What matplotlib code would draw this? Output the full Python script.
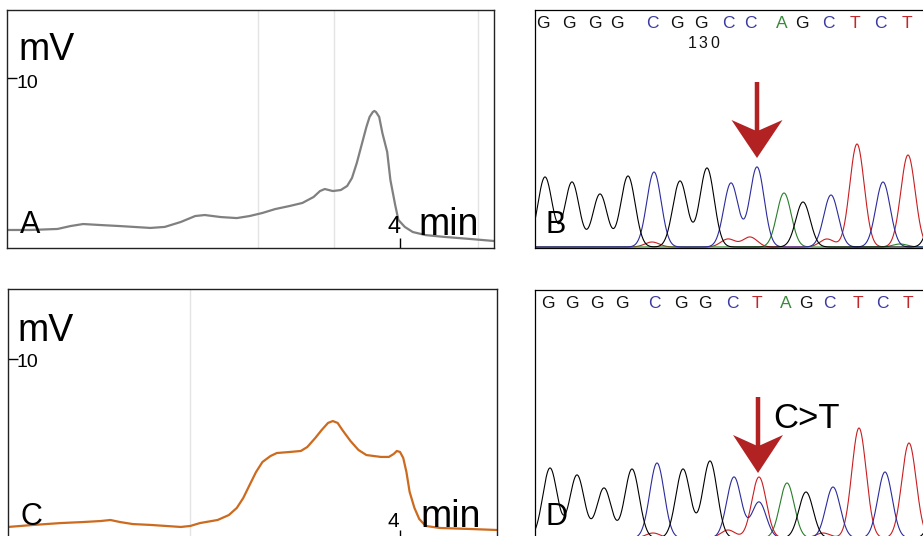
import numpy as np
import matplotlib.pyplot as plt
from matplotlib.patches import FancyArrow

plt.rcParams['font.family'] = ['Liberation Sans', 'DejaVu Sans']

# HPLC trace A (retention time in min, signal in mV)
a_time = [1.54, 1.69, 1.86, 1.94, 2.02, 2.13, 2.25, 2.44, 2.53, 2.63, 2.72, 2.78,
          2.88, 2.98, 3.06, 3.14, 3.22, 3.31, 3.39, 3.46, 3.50, 3.53, 3.58, 3.63,
          3.67, 3.70, 3.73, 3.76, 3.79, 3.81, 3.83, 3.84, 3.85, 3.87, 3.89, 3.92,
          3.94, 3.97, 3.99, 4.03, 4.08, 4.16, 4.28, 4.44, 4.59]
a_mv = [1.06, 1.06, 1.12, 1.29, 1.41, 1.35, 1.29, 1.18, 1.24, 1.53, 1.88, 1.94,
        1.82, 1.76, 1.88, 2.06, 2.29, 2.47, 2.65, 3.00, 3.35, 3.47, 3.35, 3.41,
        3.65, 4.12, 5.00, 6.06, 7.12, 7.71, 8.00, 8.06, 8.00, 7.71, 6.76, 5.65,
        4.00, 2.53, 1.65, 1.24, 0.94, 0.76, 0.65, 0.53, 0.41]
a_grid = [3.11, 3.59, 4.49]

# HPLC trace C
c_time = [1.55, 1.71, 1.88, 2.02, 2.13, 2.19, 2.25, 2.33, 2.44, 2.63, 2.69, 2.75,
          2.86, 2.93, 2.98, 3.02, 3.06, 3.10, 3.14, 3.19, 3.23, 3.31, 3.38, 3.42,
          3.47, 3.51, 3.55, 3.58, 3.61, 3.64, 3.69, 3.74, 3.79, 3.88, 3.93, 3.96,
          3.98, 4.00, 4.02, 4.04, 4.06, 4.09, 4.12, 4.16, 4.25, 4.44, 4.61]
c_mv = [0.12, 0.24, 0.35, 0.41, 0.47, 0.53, 0.41, 0.29, 0.24, 0.12, 0.18, 0.35,
        0.53, 0.82, 1.24, 1.82, 2.59, 3.35, 3.94, 4.29, 4.47, 4.53, 4.59, 4.82,
        5.35, 5.82, 6.24, 6.35, 6.24, 5.82, 5.18, 4.65, 4.35, 4.24, 4.24, 4.41,
        4.59, 4.53, 4.18, 3.35, 2.18, 1.24, 0.59, 0.18, 0.06, 0.00, -0.06]
c_grid = [2.69]

# Sanger trace B: peak (scan position, height) per dye
b_peaks = {
    'G': [(10, 70), (37, 65), (65, 53), (93, 71), (145, 66), (172, 79), (268, 45), (402, 55)],
    'C': [(119, 75), (196, 64), (222, 80), (296, 52), (348, 65)],
    'A': [(249, 54), (365, 3)],
    'T': [(322, 103), (373, 92), (117, 5), (193, 8), (215, 10), (292, 8)],
}
b_bases = list('GGGGCGGCCAGCTCT')
b_base_pos = [8, 34, 60, 82, 117, 142, 166, 193, 215, 247, 267, 293, 320, 345, 372]
b_index_label = '130'
b_index_pos = [157, 168, 180]

# Sanger trace D
d_peaks = {
    'G': [(15, 70), (42, 63), (69, 50), (97, 69), (148, 69), (175, 77), (271, 46), (404, 50)],
    'C': [(122, 75), (199, 61), (224, 36), (298, 51), (350, 66)],
    'A': [(252, 55)],
    'T': [(224, 61), (324, 110), (374, 95), (118, 5), (193, 8), (288, 5)],
}
d_bases = list('GGGGCGGCTAGCTCT')
d_base_pos = [13, 37, 62, 87, 119, 146, 170, 197, 222, 251, 271, 294, 323, 347, 373]

trace_col = {'G': '#000000', 'C': '#2b2b9c', 'A': '#2a7d2a', 'T': '#c81e22'}
text_col = {'G': '#111111', 'C': '#3b3ba0', 'A': '#3a8a3a', 'T': '#c0282c'}
arrow_col = '#b22222'

W, H = 923, 536
fig = plt.figure(figsize=(W / 100, H / 100), dpi=100)


def box(l, t, r, b):
    return fig.add_axes([l / W, 1 - b / H, (r - l) / W, (b - t) / H])


def ftext(x, y, s, size, **kw):
    fig.text(x / W, 1 - y / H, s, fontsize=size, va='baseline', ha='left', **kw)


def hplc(ax, t, mv, grid, col, xlim, ylim):
    for g in grid:
        ax.axvline(g, color='#e4e4e4', lw=1.0, zorder=0)
    ax.plot(t, mv, color=col, lw=1.6, solid_joinstyle='round')
    ax.set_xlim(*xlim)
    ax.set_ylim(*ylim)
    ax.set_xticks([4])
    ax.set_yticks([10])
    ax.set_xticklabels([])
    ax.set_yticklabels([])
    ax.tick_params(direction='in', length=7.5, width=1.0, color='black')
    for s in ax.spines.values():
        s.set_linewidth(1.0)
        s.set_color('#222222')


def sanger(ax, peaks, bases, pos, ylim, ytext):
    x = np.linspace(0, 420, 2101)
    for base in ['T', 'A', 'C', 'G']:
        y = np.zeros_like(x)
        for p, h in peaks[base]:
            y += h * np.exp(-(x - p) ** 2 / (2 * 7.2 ** 2))
        ax.plot(x, y, color=trace_col[base], lw=0.8)
    for b, p in zip(bases, pos):
        ax.text(p, ytext, b, color=text_col[b], fontsize=12.5, ha='center', va='center')
    ax.set_xlim(0, 400)
    ax.set_ylim(*ylim)
    ax.set_xticks([])
    ax.set_yticks([])
    for s in ax.spines.values():
        s.set_linewidth(0.9)


axA = box(7, 10, 494, 248)
hplc(axA, a_time, a_mv, a_grid, '#808080', (1.544, 4.5875), (0, 14))
axC = box(8, 289, 497, 540)
hplc(axC, c_time, c_mv, c_grid, '#cc6a1e', (1.55, 4.606), (-0.647, 14.118))

axB = box(535, 10, 935, 248)
sanger(axB, b_peaks, b_bases, b_base_pos, (-1, 237), 224)
# base index, drawn with the same wide letter spacing as the sequence
for ch, p in zip(b_index_label, b_index_pos):
    axB.text(p, 204, ch, fontsize=11.5, ha='center', va='center', color='#111111')
axB.add_patch(FancyArrow(222, 165, 0, -76, width=4.5, head_width=51, head_length=38,
                         overhang=0.27, length_includes_head=True, color=arrow_col, lw=0))
axB.text(10, 14, 'B', fontsize=22, va='baseline')

axD = box(535, 290, 935, 548)
sanger(axD, d_peaks, d_bases, d_base_pos, (-10, 248), 235)
axD.add_patch(FancyArrow(223, 141, 0, -76, width=4.5, head_width=50, head_length=38,
                         overhang=0.27, length_includes_head=True, color=arrow_col, lw=0))
axD.text(238, 110, 'C>T', fontsize=25, va='baseline')
axD.text(10, 13, 'D', fontsize=22, va='baseline')

# panel labels and axis annotations for the HPLC panels
ftext(18, 60, 'mV', 27)
ftext(17, 88, '10', 14)
ftext(20, 233, 'A', 22)
ftext(387, 233, '4', 17)
ftext(418, 235, 'min', 27)

ftext(17, 341, 'mV', 27)
ftext(17, 367, '10', 14)
ftext(20, 525, 'C', 22)
ftext(387, 527, '4', 15)
ftext(420, 527, 'min', 27)

fig.savefig('out.png', dpi=100)
